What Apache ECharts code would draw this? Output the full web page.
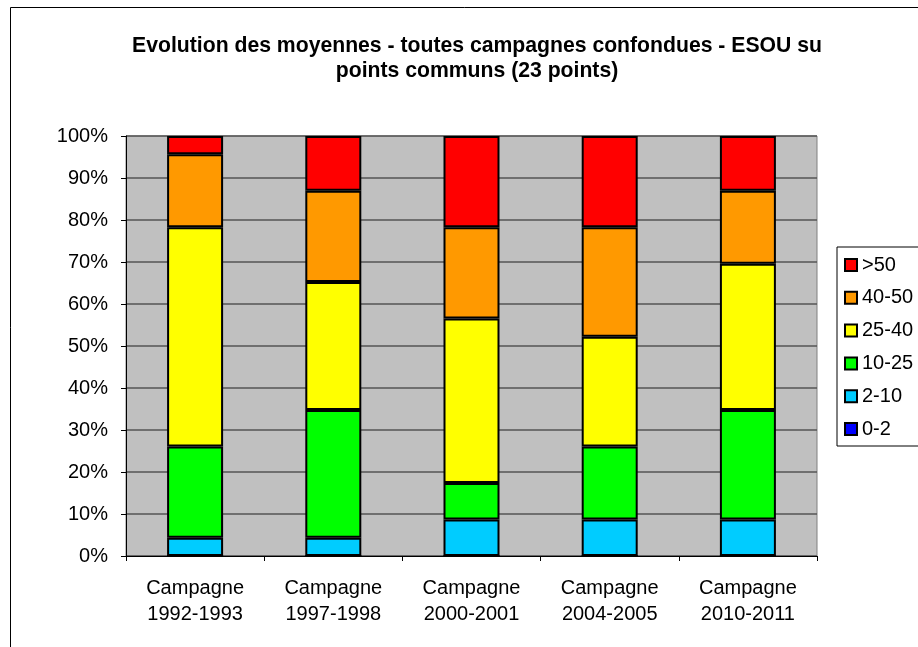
<!DOCTYPE html>
<html>
<head>
<meta charset="utf-8">
<script src="https://cdn.jsdelivr.net/npm/echarts@6/dist/echarts.min.js"></script>
<style>
  html, body { margin: 0; padding: 0; background: #fff; }
  #chart { width: 918px; height: 647px; }
</style>
</head>
<body>
<div id="chart"></div>
<script>
// nombre de points par classe (23 points communs)
const campagnes = ['Campagne\n1992-1993', 'Campagne\n1997-1998', 'Campagne\n2000-2001', 'Campagne\n2004-2005', 'Campagne\n2010-2011'];
const totalPoints = 23;
const classe0_2 = [0, 0, 0, 0, 0];
const classe2_10 = [1, 1, 2, 2, 2];
const classe10_25 = [5, 7, 2, 4, 6];
const classe25_40 = [12, 7, 9, 6, 8];
const classe40_50 = [4, 5, 5, 6, 4];
const classeSup50 = [1, 3, 5, 5, 3];

const classes = [
    { name: '0-2', data: classe0_2, color: '#0000FF' },
    { name: '2-10', data: classe2_10, color: '#00CCFF' },
    { name: '10-25', data: classe10_25, color: '#00FF00' },
    { name: '25-40', data: classe25_40, color: '#FFFF00' },
    { name: '40-50', data: classe40_50, color: '#FF9900' },
    { name: '>50', data: classeSup50, color: '#FF0000' }
];

const font = 'Liberation Sans, Arial, sans-serif';
const chart = echarts.init(document.getElementById('chart'));

chart.setOption({
    animation: false,
    textStyle: { fontFamily: font },
    title: {
        text: 'Evolution des moyennes - toutes campagnes confondues - ESOU su\npoints communs (23 points)',
        left: 472,
        top: 29,
        textAlign: 'center',
        textStyle: { fontSize: 21.2, fontWeight: 'bold', color: '#000', lineHeight: 25, fontFamily: font }
    },
    graphic: [{
        type: 'rect',
        shape: { x: 10.5, y: 7.5, width: 2000, height: 2000 },
        style: { fill: 'none', stroke: '#000', lineWidth: 1 },
        silent: true
    }],
    legend: {
        orient: 'vertical',
        left: 837,
        top: 247,
        data: ['>50', '40-50', '25-40', '10-25', '2-10', '0-2'],
        icon: 'rect',
        itemWidth: 12,
        itemHeight: 12,
        itemGap: 12.8,
        padding: [8, 6, 7, 7],
        borderColor: '#000',
        borderWidth: 1,
        textStyle: { fontSize: 20, lineHeight: 20, color: '#000', fontFamily: font }
    },
    grid: {
        left: 126,
        top: 136,
        width: 691,
        height: 420,
        show: true,
        backgroundColor: '#C0C0C0',
        borderColor: '#808080',
        borderWidth: 1
    },
    xAxis: {
        type: 'category',
        data: campagnes,
        axisLine: { lineStyle: { color: '#000', width: 1 } },
        axisTick: { show: true, length: 5, lineStyle: { color: '#000' } },
        axisLabel: { fontSize: 20, color: '#000', lineHeight: 26, margin: 19, fontFamily: font }
    },
    yAxis: {
        type: 'value',
        min: 0,
        max: 100,
        interval: 10,
        axisLine: { show: true, lineStyle: { color: '#000', width: 1 } },
        axisTick: { show: true, length: 5, lineStyle: { color: '#000' } },
        axisLabel: { formatter: '{value}%', fontSize: 20, color: '#000', margin: 18, fontFamily: font },
        splitLine: { show: true, lineStyle: { color: '#555', width: 1.5 } }
    },
    series: classes.map(c => ({
        name: c.name,
        type: 'bar',
        stack: 'total',
        barWidth: 56,
        data: c.data.map(v => v / totalPoints * 100),
        itemStyle: { color: c.color, borderColor: '#000', borderWidth: 2 }
    }))
});
</script>
</body>
</html>
